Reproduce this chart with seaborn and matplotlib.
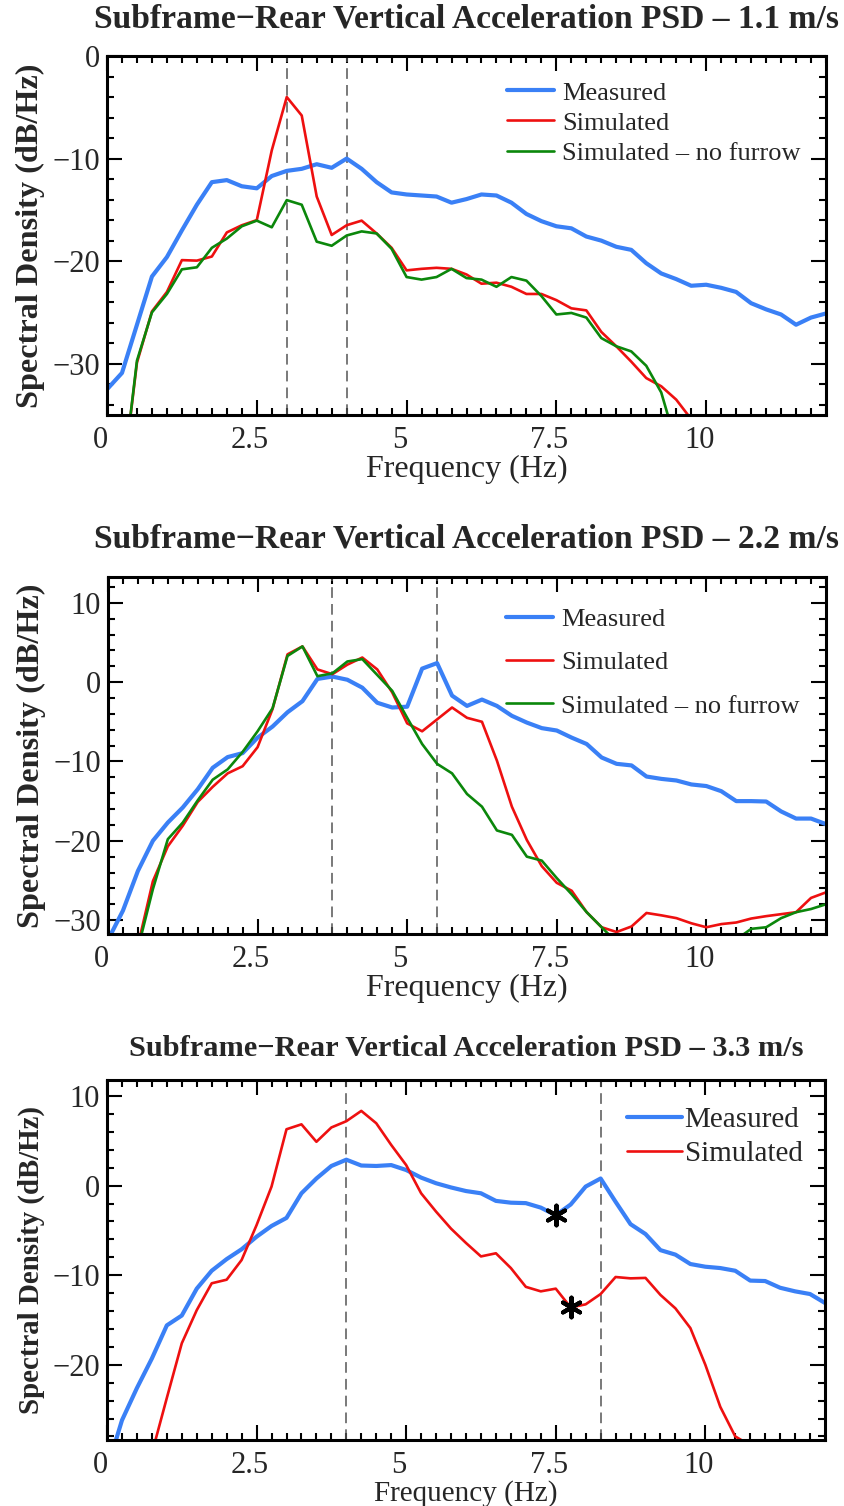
import numpy as np
import pandas as pd
import matplotlib
matplotlib.use("Agg")
import matplotlib.pyplot as plt
import matplotlib.transforms as mtransforms
from matplotlib.ticker import MultipleLocator, FixedLocator
import seaborn as sns

# Frequency grid shared by all spectra (Hz)
freq = np.arange(0, 12.001, 0.25)
nan = np.nan

# ---- 1.1 m/s ----
meas_11 = [-32.5, -30.9, -26.2, -21.5, -19.6, -17.0, -14.5, -12.3, -12.1, -12.7,
           -12.9, -11.7, -11.2, -11.0, -10.55, -10.9, -10.0, -11.0, -12.3, -13.3,
           -13.5, -13.6, -13.7, -14.3, -13.95, -13.5, -13.6, -14.3, -15.4, -16.1,
           -16.6, -16.8, -17.6, -18.0, -18.6, -18.9, -20.2, -21.2, -21.75, -22.4,
           -22.3, -22.6, -23.0, -24.1, -24.7, -25.2, -26.2, -25.5, -25.1]
sim_11 = [nan, -42.0, -29.9, -24.9, -23.0, -19.9, -19.95, -19.55, -17.2, -16.5,
          -16.0, -9.2, -4.0, -5.8, -13.7, -17.45, -16.5, -16.05, -17.3, -18.7,
          -20.9, -20.75, -20.65, -20.75, -21.3, -22.2, -22.1, -22.5, -23.2, -23.2,
          -23.8, -24.6, -24.8, -26.9, -28.3, -29.8, -31.4, -32.2, -33.5, -35.4,
          nan, nan, nan, nan, nan, nan, nan, nan, nan]
nof_11 = [nan, -42.0, -29.7, -25.0, -23.2, -20.8, -20.6, -18.7, -17.8, -16.6,
          -16.05, -16.7, -14.05, -14.5, -18.1, -18.5, -17.5, -17.1, -17.3, -18.8,
          -21.55, -21.8, -21.55, -20.75, -21.65, -21.8, -22.5, -21.55, -21.9, -23.4,
          -25.2, -25.05, -25.5, -27.5, -28.3, -28.8, -30.2, -32.8, -37.8, nan,
          nan, nan, nan, nan, nan, nan, nan, nan, nan]

# ---- 2.2 m/s ----
meas_22 = [-32.5, -28.8, -23.8, -20.0, -17.7, -15.8, -13.5, -10.8, -9.45, -8.95,
           -7.0, -5.6, -3.8, -2.4, 0.4, 0.7, 0.3, -0.7, -2.6, -3.2,
           -3.1, 1.7, 2.4, -1.7, -3.0, -2.2, -3.0, -4.25, -5.1, -5.8,
           -6.1, -7.0, -7.8, -9.5, -10.3, -10.5, -11.9, -12.2, -12.4, -12.9,
           -13.1, -13.75, -15.0, -15.0, -15.05, -16.3, -17.2, -17.2, -17.9]
sim_22 = [nan, nan, -33.2, -25.1, -20.7, -18.1, -15.1, -13.2, -11.5, -10.6,
          -8.2, -3.4, 3.5, 4.5, 1.6, 1.0, 2.2, 3.1, 1.6, -1.3,
          -5.2, -6.2, -4.7, -3.2, -4.5, -5.0, -9.9, -15.7, -19.9, -23.2,
          -25.3, -26.3, -29.0, -30.9, -31.5, -30.8, -29.1, -29.4, -29.75, -30.4,
          -30.9, -30.5, -30.3, -29.8, -29.5, -29.25, -29.0, -27.2, -26.5]
nof_22 = [nan, nan, -33.6, -26.1, -19.8, -17.7, -14.9, -12.3, -11.0, -8.8,
          -6.2, -3.3, 3.3, 4.5, 0.75, 1.1, 2.6, 2.9, 0.9, -1.1,
          -4.5, -7.8, -10.3, -11.5, -14.1, -15.7, -18.7, -19.25, -22.0, -22.5,
          -24.7, -26.75, -29.0, -30.9, -32.8, nan, nan, nan, nan, nan,
          nan, nan, -32.45, -31.1, -30.9, -29.75, -29.0, -28.6, -28.0]

# ---- 3.3 m/s ----
meas_33 = [-31.7, -26.2, -22.6, -19.3, -15.6, -14.5, -11.5, -9.5, -8.2, -7.1,
           -5.7, -4.5, -3.6, -0.85, 0.8, 2.2, 2.9, 2.25, 2.2, 2.3,
           1.75, 0.9, 0.27, -0.2, -0.6, -0.85, -1.7, -1.9, -1.95, -2.45,
           -3.3, -2.1, -0.1, 0.8, -1.8, -4.3, -5.4, -7.2, -7.7, -8.75,
           -9.05, -9.2, -9.5, -10.6, -10.65, -11.4, -11.8, -12.1, -13.1]
sim_33 = [nan, nan, nan, -29.9, -23.7, -17.6, -13.9, -10.9, -10.5, -8.3,
          -4.4, -0.1, 6.3, 6.85, 4.9, 6.5, 7.2, 8.35, 6.97, 4.55,
          2.3, -0.85, -2.9, -4.8, -6.4, -7.9, -7.55, -9.2, -11.3, -11.8,
          -11.5, -13.6, -13.25, -12.1, -10.2, -10.35, -10.3, -12.2, -13.7, -15.9,
          -20.0, -24.7, -28.0, -29.0, nan, nan, nan, nan, nan]

# Reference frequencies (dashed) and highlighted points
dashed_11 = [3.0, 4.0]
dashed_22 = [3.75, 5.5]
dashed_33 = [4.0, 8.25]
star_meas_f = [7.5]
star_sim_f = [7.75]

titles = ["Subframe\u2212Rear Vertical Acceleration PSD \u2013 1.1 m/s",
          "Subframe\u2212Rear Vertical Acceleration PSD \u2013 2.2 m/s",
          "Subframe\u2212Rear Vertical Acceleration PSD \u2013 3.3 m/s"]
xticks = [0, 2.5, 5, 7.5, 10]
xticklabels = ["0", "2.5", "5", "7.5", "10"]

sns.set_style("ticks")
plt.rcParams["font.family"] = ["Liberation Serif", "DejaVu Serif"]

BLUE = "#3a80f6"
RED = "#ee1010"
GREEN = "#0b870b"

fig = plt.figure(figsize=(8.44, 15.06), dpi=100)
W, H = 844.0, 1506.0


def make_axes(left, top, right, bottom):
    return fig.add_axes([left / W, 1 - bottom / H, (right - left) / W, (bottom - top) / H])


panels = [
    dict(ax=make_axes(107, 56, 826, 415), ylim=(-35, 0), yticks=[0, -10, -20, -30],
         series=[("Measured", meas_11, BLUE, 3.0), ("Simulated", sim_11, RED, 1.9),
                 ("Simulated \u2013 no furrow", nof_11, GREEN, 1.9)],
         dashed=dashed_11, title=titles[0], title_y=19, title_fs=24.2,
         ylab_fs=23.2, xlab_fs=23, leg_fs=19, leg_anchor=(0.556, 0.93),
         leg_spacing=0.25, leg_hl=1.8, leg_tp=0.3),
    dict(ax=make_axes(108, 577, 826, 934), ylim=(-31.75, 13.25), yticks=[10, 0, -10, -20, -30],
         series=[("Measured", meas_22, BLUE, 3.0), ("Simulated", sim_22, RED, 1.9),
                 ("Simulated \u2013 no furrow", nof_22, GREEN, 1.9)],
         dashed=dashed_22, title=titles[1], title_y=539, title_fs=24.2,
         ylab_fs=23.2, xlab_fs=23, leg_fs=19, leg_anchor=(0.554, 0.914),
         leg_spacing=0.75, leg_hl=1.8, leg_tp=0.3),
    dict(ax=make_axes(107, 1080, 825, 1440), ylim=(-28.4, 11.8), yticks=[10, 0, -10, -20],
         series=[("Measured", meas_33, BLUE, 3.0), ("Simulated", sim_33, RED, 1.9)],
         dashed=dashed_33, title=titles[2], title_y=1048, title_fs=21.9,
         ylab_fs=20.8, xlab_fs=21, leg_fs=21, leg_anchor=(0.724, 0.925),
         leg_spacing=0.25, leg_hl=1.9, leg_tp=0.08),
]

# small leftward nudge of the frequency tick labels
label_shift = mtransforms.ScaledTranslation(-7 / 100, 0, fig.dpi_scale_trans)

for p in panels:
    ax = p["ax"]
    for label, values, color, lw in p["series"]:
        df = pd.DataFrame({"Frequency": freq, "PSD": values})
        sns.lineplot(data=df, x="Frequency", y="PSD", ax=ax, color=color, lw=lw,
                     label=label, estimator=None)
    for f in p["dashed"]:
        ax.axvline(f, color="#555555", lw=1.1, ls=(0, (7, 4)), zorder=1)

    ax.set_xlim(0, 12)
    ax.set_ylim(*p["ylim"])
    ax.xaxis.set_major_locator(FixedLocator(xticks))
    ax.set_xticklabels(xticklabels)
    ax.xaxis.set_minor_locator(MultipleLocator(0.25))
    ax.yaxis.set_major_locator(FixedLocator(p["yticks"]))
    ax.set_yticklabels([str(t).replace("-", "\u2212") for t in p["yticks"]])
    ax.yaxis.set_minor_locator(MultipleLocator(2))
    ax.tick_params(which="both", direction="in", top=True, right=True,
                   labelsize=22, width=1.5, color="black")
    ax.tick_params(which="major", length=11, pad=8)
    ax.tick_params(which="minor", length=5)
    ax.tick_params(axis="y", which="major", pad=5)
    for lab in ax.get_xticklabels():
        lab.set_transform(lab.get_transform() + label_shift)
    for s in ax.spines.values():
        s.set_linewidth(2.2)
        s.set_color("black")

    ax.set_xlabel("Frequency (Hz)", fontsize=p["xlab_fs"], labelpad=0)
    ax.set_ylabel("Spectral Density (dB/Hz)", fontsize=p["ylab_fs"], fontweight="bold",
                  labelpad=5)
    pos = ax.get_position()
    fig.text(0.5 * (pos.x0 + pos.x1), 1 - p["title_y"] / H, p["title"],
             ha="center", va="center", fontsize=p["title_fs"], fontweight="bold")

    ax.legend(loc="upper left", bbox_to_anchor=p["leg_anchor"], frameon=False,
              fontsize=p["leg_fs"], handlelength=p["leg_hl"], handletextpad=p["leg_tp"],
              labelspacing=p["leg_spacing"], borderaxespad=0, borderpad=0)

# Highlighted points on the 3.3 m/s spectra
ax3 = panels[2]["ax"]
star_meas_v = [meas_33[int(round(f / 0.25))] for f in star_meas_f]
star_sim_v = [sim_33[int(round(f / 0.25))] for f in star_sim_f]
for fx, fy in [(star_meas_f, star_meas_v), (star_sim_f, star_sim_v)]:
    sns.scatterplot(x=fx, y=fy, ax=ax3, marker=(6, 2, 0), s=200, color="black",
                    linewidth=3.0, edgecolor="black", zorder=5, legend=False)

fig.savefig("out.png", dpi=100)
